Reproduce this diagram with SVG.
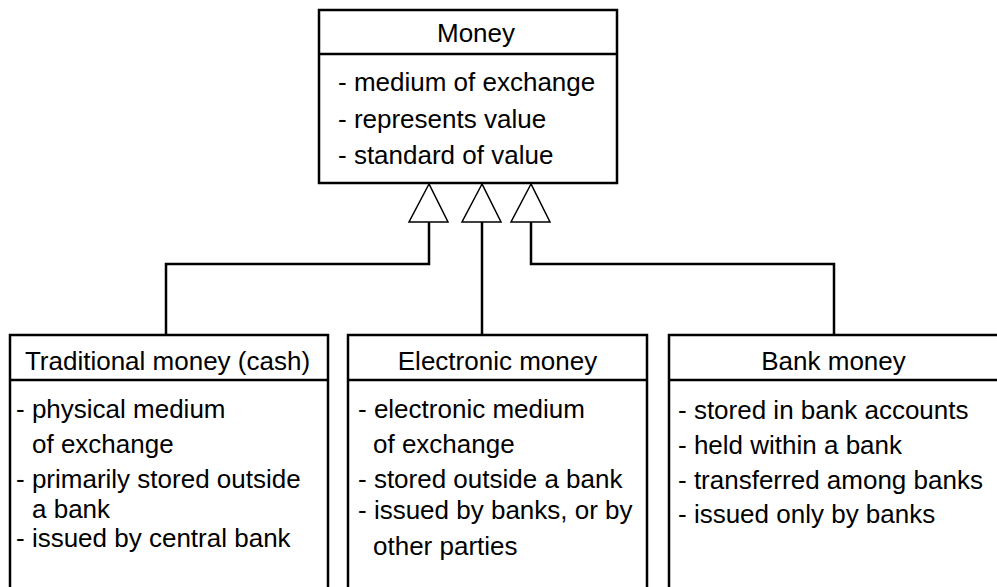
<svg xmlns="http://www.w3.org/2000/svg" width="997" height="587" viewBox="0 0 997 587">
  <style>
    text { font-family: "Liberation Sans", Arial, Helvetica, sans-serif; font-size: 26px; fill: #000; }
    .title { text-anchor: middle; }
    .box { fill: #fff; stroke: #000; stroke-width: 2.5; }
    .div { stroke: #000; stroke-width: 2.5; }
    .wire { fill: none; stroke: #000; stroke-width: 2.5; }
    .head { fill: #fff; stroke: #000; stroke-width: 1.5; stroke-linejoin: miter; }
  </style>
  <rect width="997" height="587" fill="#fff"/>

  <g id="connectors">
    <polyline class="wire" points="429,222 429,264 166,264 166,335"/>
    <polyline class="wire" points="482,222 482,335"/>
    <polyline class="wire" points="531,222 531,264 834,264 834,335"/>
    <!-- hollow generalization heads -->
    <polygon class="head" points="429,184 409,222 448,222"/>
    <polygon class="head" points="482,184 462,222 501,222"/>
    <polygon class="head" points="531,184 511,222 550,222"/>
  </g>

  <g id="money">
    <rect class="box" x="319" y="10" width="298" height="173"/>
    <line class="div" x1="319" y1="54" x2="617" y2="54"/>
    <text class="title" x="476" y="42">Money</text>
    <text x="338" y="91">- medium of exchange</text>
    <text x="338" y="128">- represents value</text>
    <text x="338" y="164">- standard of value</text>
  </g>

  <g id="traditional-money">
    <rect class="box" x="10" y="335" width="318" height="270"/>
    <line class="div" x1="10" y1="380" x2="328" y2="380"/>
    <text class="title" x="167.5" y="370">Traditional money (cash)</text>
    <text x="16" y="418">- physical medium</text>
    <text x="32" y="453">of exchange</text>
    <text x="16" y="488">- primarily stored outside</text>
    <text x="32" y="518">a bank</text>
    <text x="16" y="547">- issued by central bank</text>
  </g>

  <g id="electronic-money">
    <rect class="box" x="348" y="335" width="299" height="270"/>
    <line class="div" x1="348" y1="380" x2="647" y2="380"/>
    <text class="title" x="497.5" y="370">Electronic money</text>
    <text x="358" y="418">- electronic medium</text>
    <text x="373" y="453">of exchange</text>
    <text x="358" y="488">- stored outside a bank</text>
    <text x="358" y="519">- issued by banks, or by</text>
    <text x="373" y="555">other parties</text>
  </g>

  <g id="bank-money">
    <rect class="box" x="669" y="335" width="350" height="270"/>
    <line class="div" x1="669" y1="380" x2="1019" y2="380"/>
    <text class="title" x="833.5" y="370">Bank money</text>
    <text x="678" y="419">- stored in bank accounts</text>
    <text x="678" y="454">- held within a bank</text>
    <text x="678" y="489">- transferred among banks</text>
    <text x="678" y="523">- issued only by banks</text>
  </g>
</svg>
